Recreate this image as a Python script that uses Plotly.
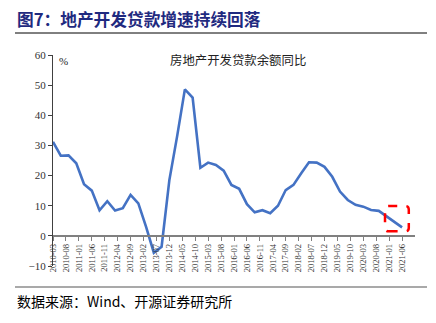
import plotly.graph_objects as go

dates = [
    "2010-03", "2010-06", "2010-09", "2010-12",
    "2011-03", "2011-06", "2011-09", "2011-12",
    "2012-03", "2012-06", "2012-09", "2012-12",
    "2013-03", "2013-06", "2013-09", "2013-12",
    "2014-03", "2014-06", "2014-09", "2014-12",
    "2015-03", "2015-06", "2015-09", "2015-12",
    "2016-03", "2016-06", "2016-09", "2016-12",
    "2017-03", "2017-06", "2017-09", "2017-12",
    "2018-03", "2018-06", "2018-09", "2018-12",
    "2019-03", "2019-06", "2019-09", "2019-12",
    "2020-03", "2020-06", "2020-09", "2020-12",
    "2021-03", "2021-06",
]
values = [
    31.2, 26.6, 26.7, 24.1,
    17.1, 15.0, 8.5, 11.5,
    8.4, 9.2, 13.6, 10.8,
    3.0, -5.6, -3.6, 18.5,
    33.0, 48.6, 45.9, 22.6,
    24.3, 23.5, 21.6, 16.9,
    15.6, 10.5, 7.8, 8.5,
    7.5, 10.0, 15.2, 16.9,
    20.8, 24.4, 24.3, 22.9,
    19.6, 14.7, 11.9, 10.3,
    9.7, 8.6, 8.3, 6.4,
    4.5, 2.8,
]
tick_labels = [
    "2010-03", "2010-08", "2011-01", "2011-06", "2011-11", "2012-04", "2012-09",
    "2013-02", "2013-07", "2013-12", "2014-05", "2014-10", "2015-03", "2015-08",
    "2016-01", "2016-06", "2016-11", "2017-04", "2017-09", "2018-02", "2018-07",
    "2018-12", "2019-05", "2019-10", "2020-03", "2020-08", "2021-01", "2021-06",
]
title_text = "图7：地产开发贷款增速持续回落"
series_name = "房地产开发贷款余额同比"
source_text = "数据来源：Wind、开源证券研究所"


def month_index(s):
    y, m = s.split("-")
    return (int(y) - 2010) * 12 + int(m) - 3


xs = [month_index(d) for d in dates]
tickvals = [month_index(t) for t in tick_labels]

SERIF = "Liberation Serif, Times New Roman, serif"
CJK = "Noto Sans CJK SC"

fig = go.Figure()
fig.add_trace(go.Scatter(
    x=xs, y=values, mode="lines",
    line=dict(color="#4472C4", width=2.6),
    name=series_name, showlegend=False, hoverinfo="skip",
))

# rounded dashed highlight box around the last points
x0, x1, y0, y1 = 128.4, 137.6, 1.5, 9.9
rx, ry = 1.4, 1.2
path = (f"M {x0+rx},{y0} L {x1-rx},{y0} Q {x1},{y0} {x1},{y0+ry} "
        f"L {x1},{y1-ry} Q {x1},{y1} {x1-rx},{y1} "
        f"L {x0+rx},{y1} Q {x0},{y1} {x0},{y1-ry} "
        f"L {x0},{y0+ry} Q {x0},{y0} {x0+rx},{y0} Z")
fig.add_shape(type="path", path=path, xref="x", yref="y",
              line=dict(color="#FF0000", width=2.5, dash="dash"))

W, H = 436, 323
L, R, T, B = 53, 21, 55, 57


def px(xp):
    return (xp - L) / (W - L - R)


def py(yp):
    return 1 - (yp - T) / (H - T - B)


# title underline and footer line (paper coords)
fig.add_shape(type="line", xref="paper", yref="paper",
              x0=px(15), x1=px(427), y0=py(33), y1=py(33),
              line=dict(color="#000000", width=1))
fig.add_shape(type="line", xref="paper", yref="paper",
              x0=px(15), x1=px(427), y0=py(287), y1=py(287),
              line=dict(color="#8C8C8C", width=1.6))

fig.add_annotation(text="<b>" + title_text + "</b>", xref="paper", yref="paper",
                   x=px(15), y=py(19), xanchor="left", yanchor="middle",
                   showarrow=False, font=dict(family=CJK, size=16.7, color="#1F2A80"))
fig.add_annotation(text=source_text, xref="paper", yref="paper",
                   x=px(15), y=py(301), xanchor="left", yanchor="middle",
                   showarrow=False, font=dict(family=CJK + ", " + SERIF, size=14, color="#000000"))
fig.add_annotation(text=series_name, xref="paper", yref="paper",
                   x=px(238), y=py(60), xanchor="center", yanchor="middle",
                   showarrow=False, font=dict(family=CJK, size=12.4, color="#222222"))
fig.add_annotation(text="%", xref="paper", yref="paper",
                   x=px(57), y=py(61), xanchor="left", yanchor="middle",
                   showarrow=False, font=dict(family=SERIF, size=11, color="#222222"))

fig.update_layout(
    width=W, height=H,
    margin=dict(l=L, r=R, t=T, b=B),
    paper_bgcolor="white", plot_bgcolor="white",
    xaxis=dict(
        range=[0, 140], tickmode="array", tickvals=tickvals, ticktext=tick_labels,
        tickangle=-90, tickfont=dict(family=SERIF, size=8.5, color="#333333"),
        showgrid=False, zeroline=False, showline=True, linecolor="#808080", linewidth=1.5,
        ticks="outside", ticklen=4, tickcolor="#808080",
        anchor="free", position=10 / 70,
    ),
    yaxis=dict(
        range=[-10, 60], dtick=10, tick0=0,
        tickfont=dict(family=SERIF, size=11, color="#333333"),
        showgrid=False, zeroline=False, showline=True, linecolor="#404040", linewidth=1.3,
        ticks="outside", ticklen=4, tickcolor="#404040",
    ),
)

fig.write_html("out.html")
